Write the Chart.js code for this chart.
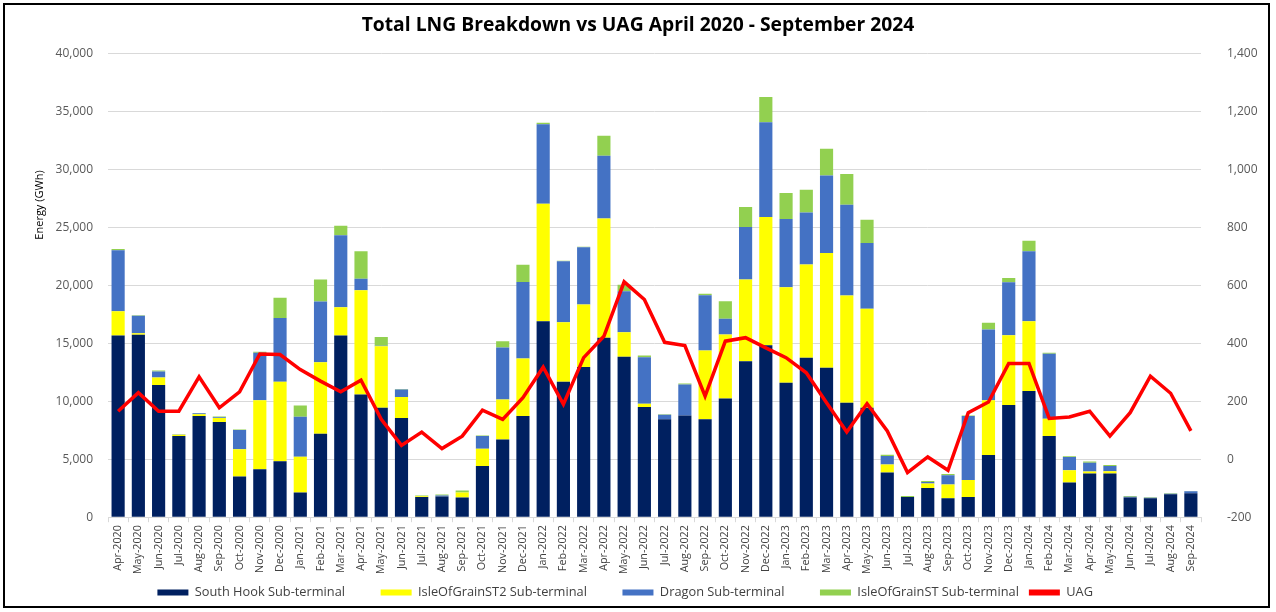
<!DOCTYPE html>
<html>
<head>
<meta charset="utf-8">
<script src="https://cdn.jsdelivr.net/npm/chart.js@4.4.1/dist/chart.umd.min.js"></script>
<style>
  body { margin: 0; background: #fff; }
  #wrap { position: relative; width: 1276px; height: 612px; }
  #frame { position: absolute; left: 3px; top: 3px; width: 1267px; height: 605px; border: 2px solid #000; box-sizing: border-box; pointer-events: none; }
</style>
</head>
<body>
<div id="wrap">
  <canvas id="chart1" width="1276" height="612"></canvas>
  <div id="frame"></div>
</div>
<script>
var months = ["Apr-2020", "May-2020", "Jun-2020", "Jul-2020", "Aug-2020", "Sep-2020", "Oct-2020", "Nov-2020", "Dec-2020",
  "Jan-2021", "Feb-2021", "Mar-2021", "Apr-2021", "May-2021", "Jun-2021", "Jul-2021", "Aug-2021", "Sep-2021", "Oct-2021", "Nov-2021", "Dec-2021",
  "Jan-2022", "Feb-2022", "Mar-2022", "Apr-2022", "May-2022", "Jun-2022", "Jul-2022", "Aug-2022", "Sep-2022", "Oct-2022", "Nov-2022", "Dec-2022",
  "Jan-2023", "Feb-2023", "Mar-2023", "Apr-2023", "May-2023", "Jun-2023", "Jul-2023", "Aug-2023", "Sep-2023", "Oct-2023", "Nov-2023", "Dec-2023",
  "Jan-2024", "Feb-2024", "Mar-2024", "Apr-2024", "May-2024", "Jun-2024", "Jul-2024", "Aug-2024", "Sep-2024"];

// energy in GWh
var southHook = [15690, 15750, 11410, 7010, 8730, 8220, 3510, 4140, 4830, 2130, 7210, 15690, 10600, 9460, 8560, 1750, 1780, 1700,
  4420, 6720, 8730, 16920, 11700, 12960, 15490, 13850, 9510, 8450, 8790, 8450, 10260, 13470, 14850, 11610, 13770, 12900,
  9890, 9460, 3850, 1750, 2530, 1640, 1750, 5370, 9680, 10890, 7010, 2990, 3770, 3770, 1700, 1640, 1980, 2070];
var grainST2 = [2090, 140, 660, 120, 150, 340, 2350, 5950, 6870, 3100, 6180, 2440, 9000, 5310, 1810, 60, 0, 430,
  1500, 3450, 4970, 10150, 5140, 5400, 10310, 2120, 290, 0, 0, 5950, 5510, 7050, 11070, 8240, 8040, 9920,
  9250, 8530, 690, 0, 370, 1180, 1470, 4720, 6040, 6030, 1500, 1060, 170, 190, 0, 0, 0, 0];
var dragon = [5260, 1500, 520, 20, 90, 60, 1670, 4110, 5510, 3450, 5230, 6210, 980, 30, 660, 0, 100, 0,
  1090, 4480, 6600, 6870, 5260, 4940, 5400, 3540, 4020, 400, 2670, 4760, 1360, 4540, 8180, 5900, 4510, 6680,
  7840, 5690, 750, 0, 140, 800, 5510, 6110, 4560, 6040, 5600, 1150, 770, 460, 60, 40, 50, 170];
var grainST = [120, 50, 80, 20, 30, 80, 50, 80, 1730, 970, 1900, 830, 2380, 770, 40, 60, 70, 170,
  40, 550, 1500, 110, 50, 50, 1730, 570, 140, 50, 90, 140, 1520, 1720, 2190, 2240, 1950, 2310,
  2650, 2010, 110, 70, 80, 110, 60, 580, 380, 920, 90, 60, 90, 80, 80, 40, 40, 30];
var uag = [166, 230, 166, 166, 285, 178, 233, 364, 362, 310, 270, 233, 273, 138, 48, 94, 37, 80,
  170, 138, 213, 318, 190, 351, 425, 613, 552, 404, 393, 218, 408, 420, 385, 351, 299, 195,
  94, 192, 98, -46, 8, -38, 161, 198, 331, 331, 141, 146, 166, 80, 161, 287, 228, 98];

var FONT = '"Open Sans", "Noto Sans", sans-serif';

// rotated axis title, sits near the top of the left axis like the original
var yTitle = {
  id: 'yTitle',
  afterDraw: function(chart) {
    var c = chart.ctx;
    c.save();
    c.translate(40, 205);
    c.rotate(-Math.PI / 2);
    c.font = '11px ' + FONT;
    c.fillStyle = '#000';
    c.textAlign = 'center';
    c.textBaseline = 'middle';
    c.fillText('Energy (GWh)', 0, 0);
    c.restore();
  }
};

var ctx = document.getElementById('chart1').getContext('2d');
var chart = new Chart(ctx, {
  type: 'bar',
  data: {
    labels: months,
    datasets: [
      { label: 'South Hook Sub-terminal', data: southHook, backgroundColor: '#002060', stack: 'lng', order: 1 },
      { label: 'IsleOfGrainST2 Sub-terminal', data: grainST2, backgroundColor: '#FFFF00', stack: 'lng', order: 1 },
      { label: 'Dragon Sub-terminal', data: dragon, backgroundColor: '#4472C4', stack: 'lng', order: 1 },
      { label: 'IsleOfGrainST Sub-terminal', data: grainST, backgroundColor: '#92D050', stack: 'lng', order: 1 },
      { label: 'UAG', type: 'line', data: uag, yAxisID: 'y1', borderColor: '#FF0000', backgroundColor: '#FF0000',
        borderWidth: 3.5, pointRadius: 0, tension: 0, order: 0 }
    ]
  },
  options: {
    responsive: false,
    animation: false,
    datasets: { bar: { barPercentage: 0.65, categoryPercentage: 1, borderWidth: 0 } },
    layout: { padding: { top: 0, left: 0, right: 0, bottom: 3 } },
    plugins: {
      title: {
        display: true,
        text: 'Total LNG Breakdown vs UAG April 2020 - September 2024',
        color: '#000',
        font: { family: FONT, size: 19.3, weight: 'bold' },
        padding: { top: 14.4, bottom: 16.4 }
      },
      legend: {
        position: 'bottom',
        labels: {
          color: '#404040',
          font: { family: FONT, size: 12.8 },
          boxWidth: 31,
          boxHeight: 6,
          padding: 10,
          sort: function(a, b) { return a.datasetIndex - b.datasetIndex; },
          generateLabels: function(ch) {
            var items = Chart.defaults.plugins.legend.labels.generateLabels(ch);
            items.forEach(function(it, i) {
              it.lineWidth = 0;
              // wider gap between entries, as in the original legend
              if (i < items.length - 1) it.text = it.text + '\u2003\u2003';
            });
            return items;
          }
        }
      },
      tooltip: { enabled: false }
    },
    scales: {
      x: {
        stacked: true,
        afterFit: function(s) { s.height = 59; },
        grid: { drawOnChartArea: false, color: '#d9d9d9', tickLength: 5 },
        border: { color: '#d9d9d9' },
        ticks: { color: '#404040', autoSkip: false, minRotation: 90, maxRotation: 90, padding: 3,
          font: { family: FONT, size: 10.7 } }
      },
      y: {
        stacked: true,
        min: 0,
        max: 40000,
        afterFit: function(s) { s.width = 108; },
        grid: { color: '#d9d9d9', drawTicks: false },
        border: { display: false },
        ticks: { stepSize: 5000, color: '#595959', padding: 15, font: { family: FONT, size: 12 } }
      },
      y1: {
        position: 'right',
        min: -200,
        max: 1400,
        afterFit: function(s) { s.width = 75; },
        grid: { drawOnChartArea: false, drawTicks: false },
        border: { display: false },
        ticks: { stepSize: 200, color: '#595959', padding: 26, font: { family: FONT, size: 12 } }
      }
    }
  },
  plugins: [yTitle]
});
</script>
</body>
</html>
